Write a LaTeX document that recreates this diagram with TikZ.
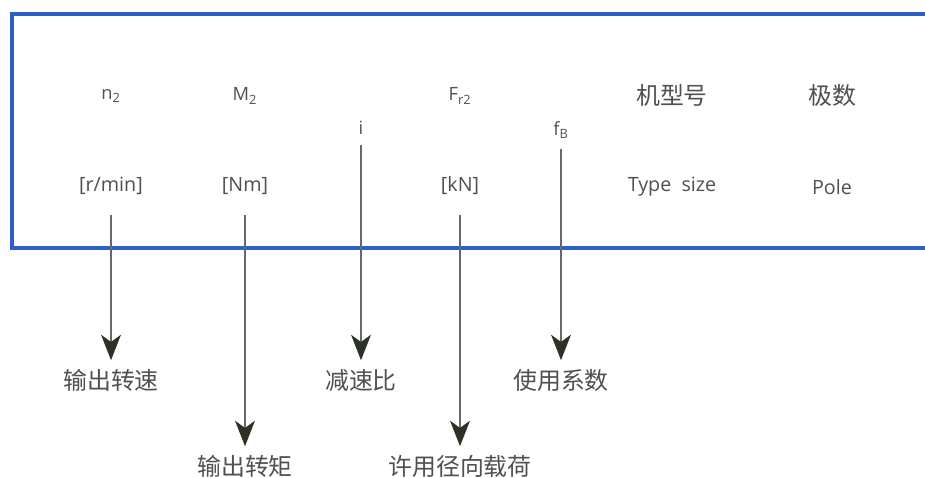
\documentclass[tikz,border=0pt]{standalone}
\usepackage{fontspec}
\setmainfont{Open Sans}
\newfontfamily\cjk{Noto Sans CJK SC}
\usepackage{xcolor}
\usetikzlibrary{arrows.meta}

\definecolor{frameblue}{RGB}{45,95,200}
\definecolor{textgray}{RGB}{80,80,80}
\definecolor{linegray}{RGB}{105,105,105}
\definecolor{tipdark}{RGB}{45,50,38}

\tikzset{
  sym/.style={text=textgray, font=\fontsize{13}{15}\selectfont, inner sep=2pt},
  unit/.style={text=textgray, font=\fontsize{14}{16}\selectfont, inner sep=2pt},
  zh/.style={text=textgray, font=\cjk\fontsize{17}{19}\selectfont, inner sep=2pt},
  pointer/.style={draw=linegray, line width=2pt,
    -{Stealth[length=18pt, width=14pt, inset=5pt, color=tipdark, fill=tipdark]}},
}

\begin{document}
\begin{tikzpicture}[x=0.025cm, y=-0.025cm]
    \useasboundingbox (0,0) rectangle (925,478);
    \fill[white] (0,0) rectangle (925,478);

    \draw[frameblue, line width=2.2pt] (935,14) -- (12,14) -- (12,248) -- (935,248);

    % header row
    \node[sym] (nsym) at (111,96) {n\textsubscript{2}};
    \node[sym] (msym) at (245,96) {M\textsubscript{2}};
    \node[sym] (isym) at (361,128) {i};
    \node[sym] (fsym) at (460,96) {F\textsubscript{r2}};
    \node[sym] (bsym) at (561,130) {f\textsubscript{B}};
    \node[zh] (tsym) at (672,95) {机型号};
    \node[zh] (psym) at (832,95) {极数};

    % units
    \node[unit] (nunit) at (111,186) {[r/min]};
    \node[unit] (munit) at (245,186) {[Nm]};
    \node[unit] (funit) at (460,186) {[kN]};
    \node[unit] (tunit) at (672,187) {Type\ \ size};
    \node[unit] (punit) at (832,187) {Pole};

    % meanings
    \node[zh] (nlab) at (111,380) {输出转速};
    \node[zh] (mlab) at (245,466) {输出转矩};
    \node[zh] (ilab) at (361,380) {减速比};
    \node[zh] (flab) at (460,466) {许用径向载荷};
    \node[zh] (blab) at (561,380) {使用系数};

    \draw[pointer, shorten <=12pt, shorten >=4pt] (nunit) -- (nlab);
    \draw[pointer, shorten <=12pt, shorten >=4pt] (munit) -- (mlab);
    \draw[pointer, shorten <=12pt, shorten >=4pt] (funit) -- (flab);
    \draw[pointer, shorten <=5pt, shorten >=4pt] (isym) -- (ilab);
    \draw[pointer, shorten <=5pt, shorten >=4pt] (bsym) -- (blab);
\end{tikzpicture}
\end{document}
